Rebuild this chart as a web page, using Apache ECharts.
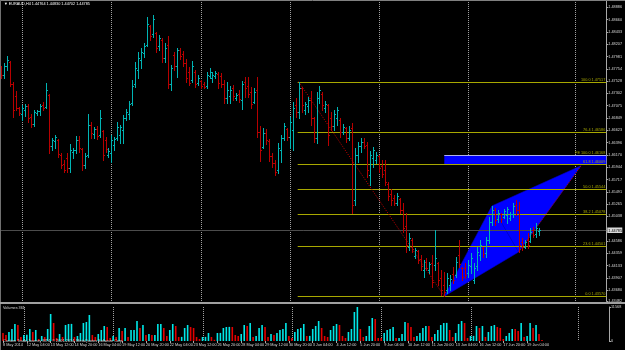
<!DOCTYPE html>
<html><head><meta charset="utf-8">
<script src="https://cdn.jsdelivr.net/npm/echarts@6.0.0/dist/echarts.min.js"></script>
<style>html,body{margin:0;padding:0;background:#000;}#c{width:625px;height:350px;}</style>
</head><body><div id="c"></div>
<script>
// ---------------- data ----------------
const symbolName = "EURAUD,H4";
const timeLabels = ["8 May 2014","12 May 04:00","13 May 12:00","14 May 20:00","16 May 04:00","19 May 12:00","20 May 20:00","22 May 04:00","23 May 12:00","26 May 20:00","28 May 04:00","29 May 12:00","30 May 20:00","3 Jun 04:00","4 Jun 12:00","5 Jun 20:00","9 Jun 04:00","10 Jun 12:00","11 Jun 20:00","13 Jun 04:00","16 Jun 12:00","17 Jun 20:00","19 Jun 04:00"];
const openP = [1.4777,1.4764,1.4781,1.4788,1.4747,1.4725,1.4703,1.4692,1.4700,1.4707,
1.4687,1.4674,1.4694,1.4698,1.4709,1.4705,1.4727,1.4633,1.4643,1.4644,
1.4617,1.4600,1.4611,1.4593,1.4622,1.4626,1.4644,1.4628,1.4598,1.4617,
1.4672,1.4655,1.4665,1.4654,1.4661,1.4644,1.4617,1.4621,1.4635,1.4648,
1.4654,1.4663,1.4685,1.4692,1.4713,1.4747,1.4773,1.4792,1.4805,1.4819,
1.4854,1.4839,1.4841,1.4817,1.4828,1.4795,1.4819,1.4747,1.4801,1.4781,
1.4810,1.4803,1.4786,1.4770,1.4755,1.4770,1.4749,1.4753,1.4747,1.4744,
1.4762,1.4759,1.4762,1.4766,1.4762,1.4747,1.4722,1.4725,1.4740,1.4722,
1.4729,1.4718,1.4751,1.4744,1.4733,1.4714,1.4736,1.4659,1.4632,1.4657,
1.4643,1.4615,1.4602,1.4589,1.4626,1.4648,1.4665,1.4650,1.4663,1.4709,
1.4696,1.4740,1.4700,1.4707,1.4718,1.4685,1.4648,1.4722,1.4729,1.4703,
1.4709,1.4685,1.4670,1.4685,1.4681,1.4659,1.4667,1.4648,1.4667,1.4534,
1.4617,1.4633,1.4641,1.4635,1.4580,1.4611,1.4608,1.4615,1.4597,1.4589,
1.4563,1.4545,1.4538,1.4528,1.4536,1.4516,1.4486,1.4448,1.4460,1.4431,
1.4440,1.4425,1.4405,1.4420,1.4405,1.4418,1.4414,1.4418,1.4390,1.4378,
1.4368,1.4378,1.4398,1.4396,1.4433,1.4409,1.4409,1.4400,1.4413,1.4387,
1.4413,1.4433,1.4446,1.4437,1.4460,1.4494,1.4516,1.4499,1.4508,1.4503,
1.4506,1.4501,1.4508,1.4525,1.4516,1.4457,1.4448,1.4460,1.4459,1.4479,
1.4471,1.44764];
const highP = [1.4781,1.4786,1.4799,1.4790,1.4751,1.4735,1.4705,1.4709,1.4711,1.4711,
1.4692,1.4700,1.4700,1.4711,1.4714,1.4749,1.4729,1.4648,1.4654,1.4646,
1.4621,1.4608,1.4621,1.4637,1.4630,1.4652,1.4652,1.4630,1.4621,1.4692,
1.4678,1.4668,1.4670,1.4700,1.4663,1.4650,1.4630,1.4654,1.4650,1.4678,
1.4672,1.4690,1.4701,1.4716,1.4755,1.4788,1.4806,1.4814,1.4823,1.4871,
1.4856,1.4874,1.4843,1.4838,1.4832,1.4823,1.4836,1.4782,1.4806,1.4814,
1.4814,1.4808,1.4793,1.4779,1.4790,1.4773,1.4764,1.4755,1.4751,1.4770,
1.4777,1.4770,1.4771,1.4770,1.4768,1.4755,1.4751,1.4744,1.4746,1.4731,
1.4736,1.4753,1.4760,1.4760,1.4742,1.4740,1.4760,1.4670,1.4667,1.4665,
1.4646,1.4621,1.4608,1.4639,1.4654,1.4676,1.4667,1.4687,1.4714,1.4722,
1.47517,1.4742,1.4714,1.4724,1.4735,1.4687,1.4733,1.4744,1.4733,1.4716,
1.4711,1.4696,1.4700,1.4705,1.4685,1.4674,1.4668,1.4670,1.4676,1.4630,
1.4641,1.4648,1.4648,1.4641,1.4624,1.4632,1.4622,1.4617,1.4608,1.4608,
1.4567,1.4554,1.4543,1.4547,1.4538,1.4528,1.4510,1.4473,1.4464,1.4446,
1.4442,1.4433,1.4424,1.4427,1.4420,1.4433,1.4479,1.4420,1.4405,1.4402,
1.4400,1.4396,1.4411,1.4429,1.4460,1.4411,1.4418,1.4424,1.4437,1.4418,
1.4448,1.4460,1.4448,1.4466,1.4503,1.4523,1.4519,1.4516,1.4510,1.4517,
1.4521,1.4512,1.4528,1.4534,1.4530,1.4464,1.4460,1.4473,1.4483,1.4484,
1.4492,1.44830];
const lowP = [1.4759,1.4759,1.4773,1.4744,1.4687,1.4700,1.4690,1.4681,1.4689,1.4678,
1.4668,1.4670,1.4690,1.4690,1.4700,1.4703,1.4621,1.4626,1.4630,1.4613,
1.4593,1.4585,1.4585,1.4585,1.4611,1.4621,1.4622,1.4589,1.4593,1.4613,
1.4648,1.4648,1.4646,1.4650,1.4608,1.4622,1.4613,1.4604,1.4626,1.4644,
1.4639,1.4639,1.4681,1.4683,1.4709,1.4742,1.4759,1.4777,1.4797,1.4817,
1.4828,1.4834,1.4806,1.4810,1.4788,1.4788,1.4740,1.4736,1.4773,1.4760,
1.4793,1.4781,1.4751,1.4746,1.4751,1.4742,1.4746,1.4740,1.4740,1.4740,
1.4759,1.4751,1.4759,1.4740,1.4742,1.4713,1.4713,1.4713,1.4718,1.4718,
1.4714,1.4701,1.4724,1.4724,1.4703,1.4713,1.4650,1.4606,1.4630,1.4637,
1.4606,1.4595,1.4580,1.4584,1.4604,1.4644,1.4644,1.4630,1.4626,1.4687,
1.4685,1.4696,1.4692,1.4696,1.4672,1.4641,1.4639,1.4713,1.4700,1.4696,
1.4635,1.4663,1.4663,1.4672,1.4650,1.4655,1.4641,1.4644,1.4510,1.4525,
1.4604,1.4622,1.4630,1.4576,1.4562,1.4595,1.4602,1.4585,1.4576,1.4562,
1.4534,1.4525,1.4525,1.4525,1.4510,1.4475,1.4438,1.4442,1.4438,1.4427,
1.4418,1.4405,1.4392,1.4405,1.4400,1.4374,1.4405,1.4378,1.4359,1.4357,
1.4363,1.4368,1.4381,1.4392,1.4411,1.4387,1.4390,1.4392,1.4400,1.4381,
1.4405,1.4424,1.4429,1.4429,1.4455,1.4488,1.4488,1.4494,1.4494,1.4501,
1.4492,1.4497,1.4503,1.4506,1.4438,1.4442,1.4446,1.4446,1.4457,1.4466,
1.4466,1.44702];
const closeP = [1.4764,1.4781,1.4792,1.4747,1.4700,1.4703,1.4694,1.4703,1.4707,1.4685,
1.4674,1.4696,1.4698,1.4707,1.4703,1.4736,1.4633,1.4644,1.4650,1.4619,
1.4598,1.4589,1.4593,1.4626,1.4626,1.4644,1.4630,1.4598,1.4615,1.4672,
1.4657,1.4665,1.4652,1.4685,1.4617,1.4628,1.4624,1.4644,1.4646,1.4668,
1.4668,1.4685,1.4696,1.4711,1.4744,1.4777,1.4795,1.4806,1.4817,1.4858,
1.4836,1.4867,1.4814,1.4832,1.4795,1.4814,1.4747,1.4777,1.4781,1.4810,
1.4799,1.4786,1.4759,1.4749,1.4781,1.4747,1.4759,1.4744,1.4742,1.4764,
1.4770,1.4764,1.4768,1.4749,1.4747,1.4722,1.4736,1.4736,1.4725,1.4727,
1.4720,1.4747,1.4740,1.4729,1.4711,1.4733,1.4659,1.4626,1.4657,1.4644,
1.4615,1.4602,1.4585,1.4630,1.4648,1.4670,1.4650,1.4678,1.4703,1.4696,
1.4740,1.4709,1.4711,1.4718,1.4685,1.4648,1.4722,1.4736,1.4709,1.4711,
1.4654,1.4670,1.4692,1.4700,1.4659,1.4668,1.4648,1.4663,1.4525,1.4617,
1.4633,1.4641,1.4633,1.4589,1.4617,1.4626,1.4617,1.4593,1.4582,1.4567,
1.4541,1.4534,1.4528,1.4541,1.4516,1.4483,1.4451,1.4464,1.4444,1.4442,
1.4424,1.4413,1.4420,1.4409,1.4416,1.4383,1.4427,1.4387,1.4368,1.4365,
1.4390,1.4389,1.4387,1.4420,1.4416,1.4392,1.4396,1.4414,1.4427,1.4409,
1.4438,1.4451,1.4435,1.4460,1.4494,1.4516,1.4497,1.4510,1.4499,1.4514,
1.4517,1.4508,1.4523,1.4516,1.4451,1.4448,1.4457,1.4451,1.4475,1.4470,
1.4483,1.44785];
const volumes = [2730,2050,3070,4090,5790,5450,1370,2050,2110,4090,
3070,3750,690,1710,1370,4090,9190,6130,1030,2390,
1370,5450,5790,5820,1370,1710,2730,6130,6470,8850,
2050,1370,2390,3750,5110,4770,1030,1710,1370,4430,
3410,4430,1370,3750,3780,6810,4430,5450,2050,2390,
2050,2080,5790,5820,4430,1710,3750,5790,5110,1370,
1400,4430,5450,4770,4430,1370,690,1370,1400,2730,
1370,400,2730,2760,4430,4770,4800,4770,2050,1710,
2390,5450,5110,6130,1370,1710,4430,5450,4770,1370,
2390,2050,2730,3750,4090,6130,1710,1030,3070,4090,
4430,5790,1710,1740,4090,5110,6810,4430,1710,1370,
3750,5110,5790,5450,1710,1030,3070,4090,9870,11568,
4090,1370,1710,5110,7830,7490,1030,1000,2730,3750,
4090,4770,1030,1060,2390,6470,6130,4770,1370,1710,
2730,4430,5110,5080,1370,2390,3750,5450,6130,6160,
3750,1370,2730,5790,6810,6130,1030,1710,1740,5110,
4430,5110,1370,3070,5110,5450,4770,4430,690,1710,
2730,4090,4060,3410,6130,1370,1710,6130,4430,5450,
2390,361];
const priceTicks = [1.48886,1.48660,1.48433,1.48207,1.47981,1.47754,1.47528,1.47302,1.47075,1.46849,1.46623,1.46396,1.46170,1.45944,1.45717,1.45491,1.45265,1.45038,1.44586,1.44359,1.44133,1.43907,1.43680,1.43482];
const volumeTicks = [0, 11568];
const fibAnchorBars = [100, 149];
const fibAnchorPrices = [1.47517, 1.43570];
const fibLevels = [0, 23.6, 38.2, 50, 61.8, 76.4, 100];
const patternBars = [149, 165, 195, 174];          // A, B, C, D
const patternPrices = [1.43570, 1.45230, 1.45970, 1.44383];
const feBars = [149];
const fePrices = [1.46168, 1.46002];
const feLevel = 100.0;
const weekBars = [7, 37, 67, 97, 127, 157, 193];
const lastPrice = 1.44785;
const N_SLOTS = 204;

// ---------------- style ----------------
const UP='#00b4b4', DOWN='#b80000', VUP='#00e8e8', VDOWN='#e40000';
const FIB='#a8a800', GRIDC='#a0a0a0', TXT='#d8d8d8', AX='#a8a8a8', BLUE='#0000ff';
const FAM='"Liberation Sans", Arial, sans-serif';
const FS=3.8;
const FONT = FS + 'px ' + FAM;

const cats = Array.from({length:N_SLOTS}, (_,i)=>String(i));
const ohlc = openP.map((o,i)=>[i,o,highP[i],lowP[i],closeP[i]]);

function renderOHLC(params, api){
  const i = api.value(0);
  const o = api.coord([i, api.value(1)]);
  const h = api.coord([i, api.value(2)]);
  const l = api.coord([i, api.value(3)]);
  const c = api.coord([i, api.value(4)]);
  const x = Math.round(o[0]) + 0.5;
  const col = api.value(4) >= api.value(1) ? UP : DOWN;
  const st = {stroke:col, lineWidth:1};
  const yo = Math.round(o[1]) + 0.5, yc = Math.round(c[1]) + 0.5;
  return {type:'group', children:[
    {type:'line', shape:{x1:x,y1:Math.round(h[1]),x2:x,y2:Math.round(l[1])+1}, style:st},
    {type:'line', shape:{x1:x-1.5,y1:yo,x2:x,y2:yo}, style:st},
    {type:'line', shape:{x1:x,y1:yc,x2:x+1.5,y2:yc}, style:st}
  ]};
}
function renderWeeks(params, api){
  const cs = params.coordSys;
  return {type:'group', children: weekBars.map(b=>{
    const x = Math.round(api.coord([b, 0])[0]) + 0.5;
    return {type:'line', shape:{x1:x,y1:cs.y,x2:x,y2:cs.y+cs.height}, style:{stroke:GRIDC, lineWidth:1, lineDash:[1,1]}};
  })};
}
function renderPattern(params, api){
  const cs = params.coordSys;
  const P = patternBars.map((b,k)=>api.coord([b, patternPrices[k]]));
  const [A,B,C,D] = P;
  const r0 = api.coord([feBars[0], fePrices[0]]);
  const r1 = api.coord([feBars[0], fePrices[1]]);
  const xr = cs.x + cs.width;
  return {type:'group', children:[
    {type:'polygon', shape:{points:[A,B,D]}, style:{fill:BLUE, stroke:'#0000d0', lineWidth:0.6}},
    {type:'polygon', shape:{points:[B,C,D]}, style:{fill:BLUE, stroke:'#0000d0', lineWidth:0.6}},
    {type:'rect', shape:{x:r0[0], y:r0[1], width:xr-r0[0], height:r1[1]-r0[1]}, style:{fill:BLUE}},
    {type:'line', shape:{x1:r0[0], y1:Math.round(r0[1])+0.5, x2:xr, y2:Math.round(r0[1])+0.5}, style:{stroke:'#b0b0e8', lineWidth:1}}
  ]};
}
function renderFib(params, api){
  const cs = params.coordSys;
  const xr = cs.x + cs.width;
  const hi = fibAnchorPrices[0], lo = fibAnchorPrices[1];
  const ch = [];
  fibLevels.forEach(lv=>{
    const p = lo + (hi-lo)*lv/100;
    const a = api.coord([fibAnchorBars[0], p]);
    const y = Math.round(a[1]) + 0.5;
    ch.push({type:'line', shape:{x1:a[0]-1,y1:y,x2:xr,y2:y}, style:{stroke:FIB, lineWidth:1}});
    ch.push({type:'text', x:xr-1, y:y-0.5, style:{text:lv.toFixed(1)+' '+p.toFixed(5), fill:FIB, font:FONT, align:'right', verticalAlign:'bottom'}});
  });
  const fe = api.coord([feBars[0], fePrices[0]]);
  ch.push({type:'text', x:xr-1, y:fe[1]-0.5, style:{text:'FE '+feLevel.toFixed(1)+' '+fePrices[0].toFixed(5), fill:FIB, font:FONT, align:'right', verticalAlign:'bottom'}});
  // fib trend (red dotted)
  const f0 = api.coord([fibAnchorBars[0], hi]), f1 = api.coord([fibAnchorBars[1], lo]);
  ch.push({type:'line', shape:{x1:f0[0],y1:f0[1],x2:f1[0],y2:f1[1]}, style:{stroke:'#d00000', lineWidth:1, lineDash:[1,1.5]}});
  const D = api.coord([patternBars[3], patternPrices[3]]), C = api.coord([patternBars[2], patternPrices[2]]);
  ch.push({type:'line', shape:{x1:D[0],y1:D[1],x2:C[0],y2:C[1]}, style:{stroke:'#d00000', lineWidth:1, lineDash:[1,1.5]}});
  // current price line and label
  const lp = api.coord([0, lastPrice]);
  const yl = Math.round(lp[1]) + 0.5;
  ch.push({type:'line', shape:{x1:cs.x,y1:yl,x2:xr,y2:yl}, style:{stroke:'#4c4c4c', lineWidth:1}});
  ch.push({type:'rect', shape:{x:xr+1, y:yl-3, width:15, height:5.5}, style:{fill:'#d8d8d8'}});
  ch.push({type:'text', x:xr+2, y:yl, style:{text:lastPrice.toFixed(5), fill:'#000', font:FONT, align:'left', verticalAlign:'middle'}});
  return {type:'group', children:ch};
}

const chart = echarts.init(document.getElementById('c'), null, {renderer:'canvas', width:625, height:350});
const axisLab = {color:TXT, fontSize:FS, fontFamily:FAM, margin:2};
chart.setOption({
  animation:false,
  backgroundColor:'#000',
  grid:[{left:0, right:16, top:0, height:301},{left:0, right:16, top:307, height:34}],
  xAxis:[
    {type:'category', gridIndex:0, data:cats, boundaryGap:true, show:false},
    {type:'category', gridIndex:1, data:cats, boundaryGap:true,
     axisLine:{show:false},
     axisTick:{show:true, alignWithLabel:true, length:2, lineStyle:{color:AX}, interval:(i)=> i%8===0 && i/8<timeLabels.length},
     axisLabel:Object.assign({}, axisLab, {align:'left', margin:2, interval:(i)=> i%8===0 && i/8<timeLabels.length, formatter:(v,i)=> timeLabels[i/8] || ''}),
     splitLine:{show:false}}
  ],
  yAxis:[
    {type:'value', gridIndex:0, position:'right', min:1.43482, max:1.4902, scale:true,
     axisLine:{show:true, lineStyle:{color:AX}}, splitLine:{show:false},
     axisTick:{show:true, length:2, lineStyle:{color:AX}, customValues:priceTicks},
     axisLabel:Object.assign({}, axisLab, {customValues:priceTicks, formatter:(v)=>v.toFixed(5)})},
    {type:'value', gridIndex:1, position:'right', min:0, max:11568,
     axisLine:{show:true, lineStyle:{color:AX}}, splitLine:{show:false},
     axisTick:{show:true, length:2, lineStyle:{color:AX}, customValues:volumeTicks},
     axisLabel:Object.assign({}, axisLab, {customValues:volumeTicks, formatter:(v)=>String(v)})}
  ],
  graphic:[
    {type:'line', shape:{x1:0,y1:0.5,x2:625,y2:0.5}, style:{stroke:'#808080', lineWidth:1}, z:100},
    {type:'line', shape:{x1:0.5,y1:0,x2:0.5,y2:350}, style:{stroke:'#707070', lineWidth:1}, z:100},
    {type:'rect', shape:{x:0,y:302,width:625,height:2}, style:{fill:'#a0a0a0'}, z:100},
    {type:'text', left:4, top:2, style:{text:'\u25BC '+symbolName+' '+[openP[181],highP[181],lowP[181],closeP[181]].map(v=>v.toFixed(5)).join(' '), fill:'#ffffff', font:FONT}, z:100},
    {type:'text', left:3, top:306, style:{text:'Volumes '+volumes[volumes.length-1], fill:TXT, font:FONT}, z:100},
    {type:'text', left:3, top:338.5, style:{text:'Custom Trade Journey MT4, \u00A9 2001-2014, MetaQuotes Software Corp.', fill:TXT, font:FONT}, z:100}
  ],
  series:[
    {type:'custom', xAxisIndex:0, yAxisIndex:0, data:[[0,0]], renderItem:renderWeeks, z:1, silent:true},
    {type:'custom', xAxisIndex:1, yAxisIndex:1, data:[[0,0]], renderItem:renderWeeks, z:1, silent:true},
    {type:'custom', xAxisIndex:0, yAxisIndex:0, data:[[0,0]], renderItem:renderPattern, z:2, silent:true},
    {type:'custom', xAxisIndex:0, yAxisIndex:0, data:[[0,0]], renderItem:renderFib, z:3, silent:true},
    {type:'custom', xAxisIndex:0, yAxisIndex:0, data:ohlc, encode:{x:0, y:[1,2,3,4]}, renderItem:renderOHLC, z:4, silent:true},
    {type:'bar', xAxisIndex:1, yAxisIndex:1, barWidth:1.6, silent:true, z:4,
     data:volumes.map((v,i)=>({value:v, itemStyle:{color: (i>0 && v>volumes[i-1]) ? VUP : VDOWN}}))}
  ]
});
</script>
</body></html>
